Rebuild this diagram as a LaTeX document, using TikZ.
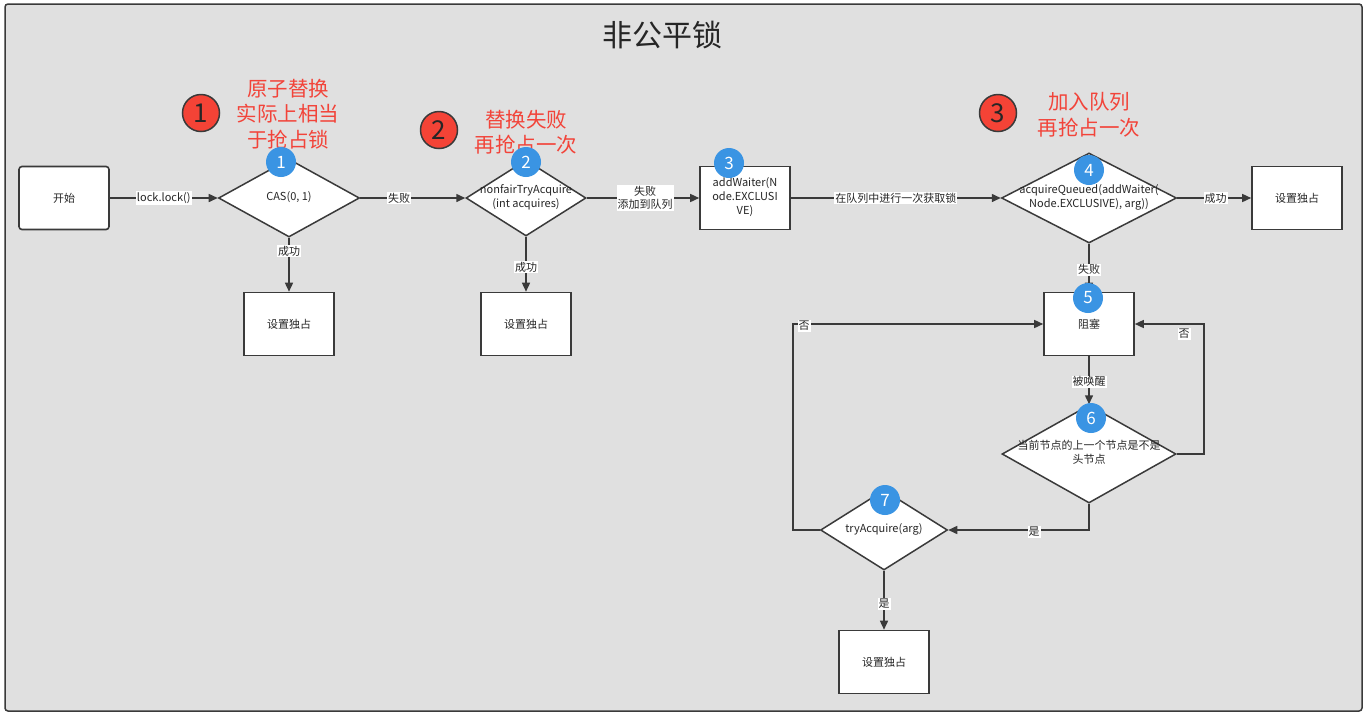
\documentclass[tikz,border=0pt]{standalone}
\usepackage{fontspec}
\setmainfont{Noto Sans CJK SC}
\usetikzlibrary{shapes.geometric,arrows.meta}
\definecolor{framegray}{HTML}{E0E0E0}
\definecolor{linegray}{HTML}{3A3A3A}
\definecolor{stepblue}{HTML}{3A94E3}
\definecolor{notered}{HTML}{F44336}
\definecolor{remarkred}{HTML}{F2443A}
\newcommand{\dtext}[1]{\makebox[0pt]{\begin{tabular}{@{}c@{}}#1\end{tabular}}}
\tikzset{
  box/.style={draw=linegray, line width=1.6pt, fill=white, minimum width=90, minimum height=63,
    font=\fontsize{11}{14}\selectfont, text=black!85, align=center},
  decision/.style={diamond, draw=linegray, line width=1.5pt, fill=white, inner sep=0pt,
    font=\fontsize{11}{14}\selectfont, text=black!85},
  flow/.style={draw=linegray, line width=1.5pt, -{Triangle[length=9pt,width=8pt]}},
  tag/.style={fill=white, inner sep=1pt, font=\fontsize{11}{13}\selectfont, text=black!85, align=center},
  badge/.style={circle, fill=stepblue, text=white, inner sep=0pt, minimum size=30, font=\fontsize{17}{17}\selectfont},
  marker/.style={circle, draw=linegray, line width=1.5pt, fill=notered, text=black!85, inner sep=0pt,
    minimum size=37, font=\fontsize{26}{26}\selectfont},
  remark/.style={text=remarkred, align=center, font=\fontsize{20.5}{25.5}\selectfont},
}
\begin{document}
\begin{tikzpicture}[x=1pt,y=-1pt]
\useasboundingbox (0,0) rectangle (1368,716);
\fill[white] (0,0) rectangle (1368,716);
\draw[linegray, line width=1.5pt, fill=framegray, rounded corners=3pt] (5,4) rectangle (1362,711);
\node[font=\fontsize{30}{30}\selectfont, text=black!85] (title) at (662,35) {非公平锁};

% red notes
\node[marker] (m1) at (201,113) {1};
\node[marker] (m2) at (439,130) {2};
\node[marker] (m3) at (998,113) {3};
\node[remark] (r1) at (288,114) {原子替换\\实际上相当\\于抢占锁};
\node[remark] (r2) at (526,132) {替换失败\\再抢占一次};
\node[remark] (r3) at (1089,115) {加入队列\\再抢占一次};

% nodes
\node[box, rounded corners=3pt] (start) at (64,198) {开始};
\node[decision, minimum width=141, minimum height=78] (cas) at (289,198) {\dtext{CAS(0, 1)}};
\node[box] (own1) at (289,324) {设置独占};
\node[decision, minimum width=120, minimum height=76] (retry) at (526,198) {\dtext{nonfairTryAcquire\\(int acquires)}};
\node[box] (own2) at (526,324) {设置独占};
\node[box] (wait) at (745,198) {\dtext{addWaiter(N\\ode.EXCLUSI\\VE)}};
\node[decision, minimum width=175, minimum height=90] (queue) at (1089,198) {\dtext{acquireQueued(addWaiter(\\Node.EXCLUSIVE), arg))}};
\node[box] (own3) at (1297,198) {设置独占};
\node[box] (block) at (1089,324) {阻塞};
\node[decision, minimum width=174, minimum height=98] (head) at (1089,454) {\dtext{当前节点的上一个节点是不是\\头节点}};
\node[decision, minimum width=127, minimum height=80] (try) at (884,530) {\dtext{tryAcquire(arg)}};
\node[box] (own4) at (884,662) {设置独占};

% connectors
\draw[flow] (start) -- (cas) node[tag, midway] {lock.lock()};
\draw[flow] (cas) -- (retry) node[tag, pos=0.37] {失败};
\draw[flow] (cas) -- (own1) node[tag, pos=0.25] {成功};
\draw[flow] (retry) -- (wait) node[tag, pos=0.52] {失败\\添加到队列};
\draw[flow] (retry) -- (own2) node[tag, pos=0.55] {成功};
\draw[flow] (wait) -- (queue) node[tag, pos=0.5] {在队列中进行一次获取锁};
\draw[flow] (queue) -- (own3) node[tag, pos=0.52] {成功};
\draw[flow] (queue) -- (block) node[tag, pos=0.54] {失败};
\draw[flow] (block) -- (head) node[tag, pos=0.53] {被唤醒};
\draw[flow] (head.east) -- ++(27,0) coordinate (rturn) |- (block.east);
\node[tag] (no1) at (1184,334) {否};
\draw[flow] (head.south) |- (try.east);
\node[tag] (yes1) at (1034,532) {是};
\draw[flow] (try.west) -- ++(-27,0) coordinate (lturn) |- (block.west);
\node[tag] (no2) at (804,326) {否};
\draw[flow] (try) -- (own4) node[tag, pos=0.56] {是};

% step badges
\node[badge] (b1) at (281,162) {1};
\node[badge] (b2) at (526,162) {2};
\node[badge] (b3) at (729,163) {3};
\node[badge] (b4) at (1089,170) {4};
\node[badge] (b5) at (1088,298) {5};
\node[badge] (b6) at (1091,418) {6};
\node[badge] (b7) at (885,500) {7};
\end{tikzpicture}
\end{document}
